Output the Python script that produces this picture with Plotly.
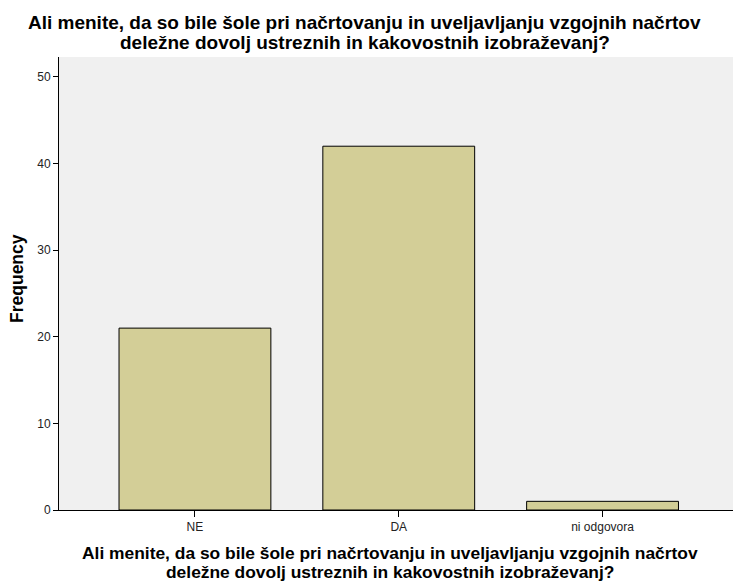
import plotly.graph_objects as go

categories = ["NE", "DA", "ni odgovora"]
frequency = [21, 42, 1]
y_ticks = [0, 10, 20, 30, 40, 50]

question_lines = [
    "Ali menite, da so bile šole pri načrtovanju in uveljavljanju vzgojnih načrtov",
    "deležne dovolj ustreznih in kakovostnih izobraževanj?",
]

fig = go.Figure(go.Bar(
    x=[0, 1, 2], y=frequency, width=0.745,
    marker=dict(color="#D3CE97", line=dict(color="#000000", width=1)),
))

font = "Liberation Sans, Arial, sans-serif"


def text_line(text, x, yref_y, shift, size, angle=0):
    return dict(text="<b>" + text + "</b>", xref="paper", yref="paper", x=x, y=yref_y,
                yshift=shift, xanchor="center", yanchor="middle", showarrow=False,
                textangle=angle, font=dict(size=size, family=font, color="#000000"))


annotations = [
    # chart title above the plot
    text_line(question_lines[0], 0.454, 1, 35, 19),
    text_line(question_lines[1], 0.454, 1, 15, 19),
    # x-axis title below the category labels
    text_line(question_lines[0], 0.491, 0, -43, 17.4),
    text_line(question_lines[1], 0.491, 0, -62, 17.4),
    # y-axis title
    dict(text="<b>Frequency</b>", xref="paper", yref="paper", x=-0.0623, y=0.51,
         xanchor="center", yanchor="middle", showarrow=False, textangle=-90,
         font=dict(size=17.5, family=font, color="#000000")),
]

fig.update_layout(
    width=733, height=582,
    margin=dict(l=59, r=0, t=57, b=72),
    paper_bgcolor="white", plot_bgcolor="#F0F0F0",
    showlegend=False,
    font=dict(family=font, color="#000000"),
    xaxis=dict(
        range=[-0.667, 2.64], tickmode="array", tickvals=[0, 1, 2], ticktext=categories,
        showgrid=False, zeroline=False, showline=True, linecolor="#000000", linewidth=1,
        ticks="outside", ticklen=6, tickcolor="#000000",
        tickfont=dict(size=12, color="#222222"),
    ),
    yaxis=dict(
        range=[0, 52.3], tickvals=y_ticks,
        showgrid=False, zeroline=False, showline=True, linecolor="#000000", linewidth=1,
        ticks="outside", ticklen=5, tickcolor="#000000",
        tickfont=dict(size=12, color="#222222"),
    ),
    annotations=annotations,
)

fig.write_html("out.html")
